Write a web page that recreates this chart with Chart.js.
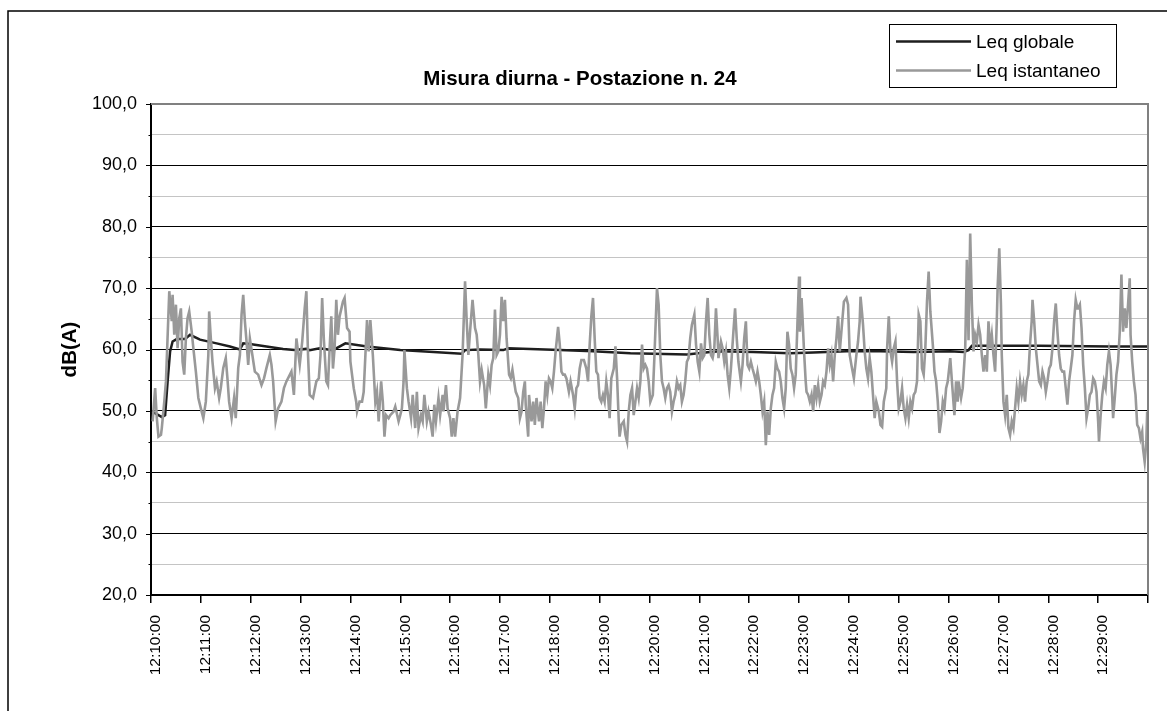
<!DOCTYPE html>
<html>
<head>
<meta charset="utf-8">
<script src="https://cdn.jsdelivr.net/npm/chart.js@4/dist/chart.umd.min.js"></script>
<style>
html,body{margin:0;padding:0;background:#fff;}
canvas{display:block;}
</style>
</head>
<body>
<canvas id="c" width="1167" height="711"></canvas>
<script>
const chartTitle = 'Misura diurna - Postazione n. 24';
const yAxisTitle = 'dB(A)';
const seriesNames = ['Leq globale', 'Leq istantaneo'];
const tickLabels = ['12:10:00','12:11:00','12:12:00','12:13:00','12:14:00','12:15:00','12:16:00','12:17:00','12:18:00','12:19:00',
  '12:20:00','12:21:00','12:22:00','12:23:00','12:24:00','12:25:00','12:26:00','12:27:00','12:28:00','12:29:00'];

// seconds after 12:10:00
const globSeconds = [1,9,13,17,20,23,26,31,41,47,59,79,95,107,111,119,139,159,173,187,191,203,219,234,260,280,300,340,374,378,396,424,430,492,532,577,605,645,673,685,725,769,797,837,878,918,962,978,984,988,1069,1154,1199];
const globLeq = [49.9,49.3,49.0,49.3,54.8,59.7,61.3,61.7,61.7,62.4,61.6,61.0,60.5,60.0,61.0,60.9,60.5,60.1,59.9,60.1,59.9,60.2,59.9,61.0,60.5,60.2,59.9,59.6,59.3,59.9,60.0,59.9,60.2,59.9,59.7,59.4,59.3,59.2,59.6,59.7,59.6,59.4,59.5,59.7,59.7,59.6,59.7,59.6,59.9,60.6,60.6,60.5,60.5];

const instSeconds = [
2,5,7,9,12,13,16,18,22,25,26,28,30,32,34,36,38,40,42,44,46,49,51,54,57,60,63,66,69,70,72,74,77,79,82,84,87,90,92,94,97,100,102,105,107,109,111,113,115,117,119,125,129,133,136,139,143,145,147,150,153,157,160,163,169,172,175,179,182,185,187,
189,191,195,199,202,204,206,208,211,213,215,217,219,221,223,225,227,231,233,236,239,240,244,247,248,251,254,256,260,262,264,267,270,272,274,277,279,281,283,286,288,292,294,298,300,302,304,305,308,310,313,315,318,320,322,325,327,329,332,334,337,339,341,343,346,348,351,352,355,357,360,362,364,366,369,372,375,378,380,
382,384,387,390,392,394,396,398,401,403,406,408,410,412,414,416,418,420,422,424,426,428,431,433,435,437,439,442,444,446,448,450,451,454,455,458,460,462,464,467,469,471,473,475,477,479,481,483,485,487,490,492,494,496,498,500,503,505,508,510,512,514,516,518,521,524,526,528,530,532,534,536,538,540,542,544,546,548,550,552,554,557,559,561,563,564,566,569,571,573,
575,577,579,581,583,585,587,589,591,593,595,597,599,601,604,606,609,611,613,615,617,619,621,623,625,627,629,631,633,635,637,639,641,643,645,647,649,651,654,656,658,660,662,664,666,668,670,672,674,676,678,680,682,683,686,688,690,692,694,696,698,701,703,705,707,710,712,714,716,718,720,722,724,726,728,730,732,734,736,738,740,742,744,746,748,750,752,754,756,758,760,762,764,766,
768,770,772,774,776,778,780,781,783,784,786,788,789,791,793,795,797,799,801,803,805,807,809,811,813,815,817,819,821,823,825,827,829,832,834,837,839,841,843,846,849,851,853,854,856,857,859,861,863,865,867,869,871,873,876,878,880,882,885,886,888,890,892,894,896,898,900,902,904,906,908,910,912,914,916,918,920,922,924,926,928,930,932,934,936,938,941,943,945,947,949,951,953,955,957,959,962,
964,967,969,971,972,975,977,980,982,984,986,988,990,992,994,996,998,1000,1002,1004,1006,1008,1010,1012,1014,1016,1018,1019,1021,1023,1024,1026,1028,1030,1032,1034,1036,1038,1040,1042,1044,1046,1048,1050,1052,1054,1056,1058,1060,1061,1063,1065,1067,1069,1071,1073,1075,1077,1079,1081,1083,1085,1087,1089,1091,1093,1095,1097,1099,1101,1103,1105,1107,1109,1111,1113,1115,1116,1118,1120,1122,1124,1126,1128,1130,1132,1134,1136,1138,1140,1141,1143,1145,1147,1149,1151,1153,
1155,1157,1158,1160,1162,1164,1166,1168,1170,1172,1174,1176,1178,1179,1181,1183,1185,1187,1189,1191,1193,1194,1196,1198,1199];
const instLeq = [
48.3,53.7,48.8,45.8,46.1,47.2,51.5,54.8,69.5,64.6,68.9,62.4,67.3,60.2,65.1,66.7,58.0,55.9,61.8,65.1,66.2,62.9,60.2,56.4,52.1,50.4,48.8,51.5,59.1,66.2,61.8,58.0,53.7,54.8,52.1,53.7,57.0,58.6,55.3,51.5,48.8,52.1,48.8,57.0,59.1,65.7,68.9,64.6,61.3,57.5,61.8,56.4,55.9,54.2,55.3,57.0,59.1,57.5,54.8,48.3,50.4,51.5,53.7,54.8,56.4,52.6,61.8,57.5,61.3,66.7,69.5,
59.1,52.6,52.1,54.8,55.3,59.1,68.4,61.8,54.8,54.2,60.2,65.4,56.9,60.2,68.1,62.4,65.4,67.8,68.4,63.5,62.9,58.0,53.7,51.5,49.9,51.5,51.5,53.1,64.8,59.7,64.8,59.1,51.5,53.1,48.3,54.8,51.5,45.8,49.3,48.8,49.3,49.9,50.7,48.3,49.3,50.4,54.8,59.9,53.7,51.5,48.8,52.6,47.2,53.1,47.2,49.3,48.3,52.6,48.3,49.9,47.7,45.8,51.0,48.3,52.1,49.3,52.6,49.9,54.2,50.4,48.8,45.8,48.8,45.8,49.9,52.1,59.1,71.1,64.6,
59.1,62.9,68.1,63.5,62.4,59.1,54.8,56.7,54.2,50.4,55.9,54.2,57.5,58.6,66.5,59.1,59.7,62.4,68.6,64.6,68.1,61.8,55.9,55.3,56.7,54.8,53.1,52.1,48.8,49.9,53.1,54.8,51.0,45.8,52.6,48.3,51.5,47.7,52.1,48.3,51.5,47.2,50.4,54.8,52.6,55.3,54.8,53.7,56.4,59.7,63.7,60.8,56.4,55.9,55.9,55.3,53.1,54.8,52.6,50.4,53.7,54.2,56.9,58.3,58.3,56.9,54.8,60.8,65.4,68.4,61.8,56.4,55.9,52.1,51.5,52.6,51.5,54.8,52.6,48.8,55.3,56.9,60.5,55.3,48.3,45.8,47.7,48.3,46.1,45.0,
49.9,52.6,53.7,49.3,51.5,53.7,52.1,54.8,60.8,56.9,57.5,56.9,54.8,51.5,52.6,59.1,70.0,67.3,59.1,54.8,53.7,52.1,53.7,54.2,53.1,49.9,51.5,52.6,54.8,53.7,54.2,51.5,52.6,54.8,58.0,58.6,61.8,64.0,65.7,60.8,58.0,56.4,61.0,58.6,59.1,64.6,68.4,62.4,59.1,58.6,60.2,66.7,61.8,58.6,61.3,60.2,58.0,59.7,55.9,53.7,56.9,62.9,66.7,61.8,58.0,54.8,57.5,61.8,64.6,57.5,56.9,58.0,56.9,55.9,54.8,56.4,54.8,52.6,49.9,51.5,44.4,49.9,46.1,50.4,52.6,53.7,58.0,56.9,56.4,54.8,52.1,50.4,53.7,62.9,
60.8,56.9,55.9,53.7,55.9,64.0,71.9,62.9,68.4,65.7,59.7,54.8,53.1,52.6,51.5,52.6,49.9,54.2,52.1,54.2,51.5,52.6,54.8,54.2,56.4,60.2,57.5,59.1,54.8,59.1,61.8,65.4,59.7,64.6,67.8,68.4,67.3,59.1,57.5,55.3,59.1,61.3,64.6,68.6,65.7,64.0,59.7,56.9,55.3,58.6,56.4,52.6,48.8,51.5,49.9,47.7,47.4,51.5,53.7,60.2,65.4,59.7,58.0,60.2,61.3,54.8,50.4,51.5,53.7,50.4,48.8,51.0,48.8,51.5,50.4,52.6,53.1,54.8,65.7,64.6,56.9,55.9,60.2,67.8,72.7,66.2,60.8,56.4,54.8,51.5,46.4,48.3,51.5,50.4,53.7,54.8,58.6,
54.8,49.3,54.8,51.5,54.8,52.1,53.7,60.2,74.6,61.5,78.9,67.3,59.7,62.4,61.3,64.0,62.4,59.1,56.4,59.1,56.4,64.6,60.2,62.4,59.1,56.4,64.6,70.0,76.5,67.3,59.1,51.5,49.3,52.6,47.2,46.1,48.3,47.2,50.4,53.7,51.5,54.8,52.6,54.2,51.5,54.8,55.9,60.8,64.6,68.1,64.6,60.2,57.5,54.8,54.2,56.4,55.3,53.1,54.8,56.9,57.5,60.2,64.6,67.5,62.9,59.1,56.9,56.4,56.4,53.7,51.0,54.8,56.9,59.1,64.6,68.1,66.7,66.7,67.3,63.5,57.5,53.7,48.8,50.4,52.6,53.1,55.3,54.8,53.1,48.3,45.0,49.3,52.6,54.8,53.7,57.5,59.7,
57.5,52.1,48.8,52.1,55.9,58.0,62.9,72.2,62.9,66.7,63.5,67.3,71.6,62.4,58.0,54.8,52.6,47.7,47.2,45.5,46.6,43.9,41.7,45.0,49.9];

const FONT = "'Liberation Sans', Arial, Helvetica, sans-serif";
const toPts = (xs, ys) => xs.map((x, i) => ({ x: x, y: ys[i] }));

const decorPlugin = {
  id: 'decor',
  beforeDraw(chart) {
    const ctx = chart.ctx;
    ctx.save();
    ctx.fillStyle = '#ffffff';
    ctx.fillRect(0, 0, chart.width, chart.height);
    ctx.strokeStyle = '#000';
    ctx.lineWidth = 1.5;
    ctx.beginPath();
    ctx.moveTo(8, chart.height);
    ctx.lineTo(8, 11);
    ctx.lineTo(chart.width, 11);
    ctx.stroke();
    // chart title
    ctx.fillStyle = '#000';
    ctx.font = 'bold 20.5px ' + FONT;
    ctx.textAlign = 'center';
    ctx.textBaseline = 'middle';
    ctx.fillText(chartTitle, 580, 79);
    ctx.restore();
  },
  afterDraw(chart) {
    const ctx = chart.ctx;
    const a = chart.chartArea;
    const y = chart.scales.y;
    ctx.save();
    // plot area border (top / right)
    ctx.strokeStyle = '#808080';
    ctx.lineWidth = 2;
    ctx.beginPath();
    ctx.moveTo(a.left, a.top);
    ctx.lineTo(a.right, a.top);
    ctx.lineTo(a.right, a.bottom);
    ctx.stroke();
    // y tick marks (major / minor)
    ctx.strokeStyle = '#000';
    ctx.lineWidth = 1;
    y.ticks.forEach(t => {
      const py = Math.round(y.getPixelForValue(t.value)) + 0.5;
      const len = t.value % 10 === 0 ? 5 : 2.5;
      ctx.beginPath();
      ctx.moveTo(a.left - len, py);
      ctx.lineTo(a.left, py);
      ctx.stroke();
    });
    // legend
    ctx.fillStyle = '#fff';
    ctx.fillRect(889.5, 24.5, 227, 63);
    ctx.strokeStyle = '#000';
    ctx.lineWidth = 1;
    ctx.strokeRect(889.5, 24.5, 227, 63);
    const rows = [41.5, 70.5];
    chart.data.datasets.forEach((d, i) => {
      ctx.strokeStyle = d.borderColor;
      ctx.lineWidth = d.borderWidth;
      ctx.beginPath();
      ctx.moveTo(896, rows[i]);
      ctx.lineTo(971, rows[i]);
      ctx.stroke();
      ctx.fillStyle = '#000';
      ctx.font = '19px ' + FONT;
      ctx.textAlign = 'left';
      ctx.textBaseline = 'alphabetic';
      ctx.fillText(d.label, 976, rows[i] + 6);
    });
    ctx.restore();
  }
};

new Chart(document.getElementById('c'), {
  type: 'line',
  data: {
    datasets: [
      { label: seriesNames[0], data: toPts(globSeconds, globLeq), borderColor: '#1e1e1e', borderWidth: 2.5,
        pointRadius: 0, tension: 0, order: 2, fill: false },
      { label: seriesNames[1], data: toPts(instSeconds, instLeq), borderColor: '#999999', borderWidth: 2.6,
        pointRadius: 0, tension: 0, order: 1, fill: false }
    ]
  },
  options: {
    responsive: false,
    animation: false,
    devicePixelRatio: 1,
    events: [],
    layout: { padding: { left: 58, right: 19, top: 104, bottom: 0 } },
    plugins: {
      legend: { display: false },
      tooltip: { enabled: false },
      title: { display: false }
    },
    scales: {
      x: {
        type: 'linear', min: 0, max: 1200,
        afterFit(s) { s.height = 116; s.paddingLeft = 0; s.paddingRight = 0; },
        ticks: {
          stepSize: 60, autoSkip: false, minRotation: 90, maxRotation: 90,
          padding: 12, labelOffset: 5, color: '#000',
          font: { family: FONT, size: 15.5 },
          callback: (v, i) => (tickLabels[i] !== undefined ? tickLabels[i] : '')
        },
        grid: { drawOnChartArea: false, drawTicks: true, tickLength: 8, tickColor: '#000', lineWidth: 1.5 },
        border: { display: true, color: '#000', width: 2 }
      },
      y: {
        type: 'linear', min: 20, max: 100,
        afterFit(s) { s.width = 93; s.paddingTop = 0; s.paddingBottom = 0; },
        ticks: {
          stepSize: 5, autoSkip: false, padding: 14, color: '#000',
          font: { family: FONT, size: 18 },
          callback: v => (v % 10 === 0 ? v.toFixed(1).replace('.', ',') : '')
        },
        grid: {
          drawTicks: false, lineWidth: 1,
          color: c => (c.tick.value === 100 ? '#808080' : (c.tick.value % 10 === 0 ? '#000' : '#c4c4c4'))
        },
        border: { display: true, color: '#000', width: 2 },
        title: {
          display: true, text: yAxisTitle, color: '#000',
          font: { family: FONT, size: 20.5, weight: 'bold' }, padding: 0
        }
      }
    }
  },
  plugins: [decorPlugin]
});
</script>
</body>
</html>
